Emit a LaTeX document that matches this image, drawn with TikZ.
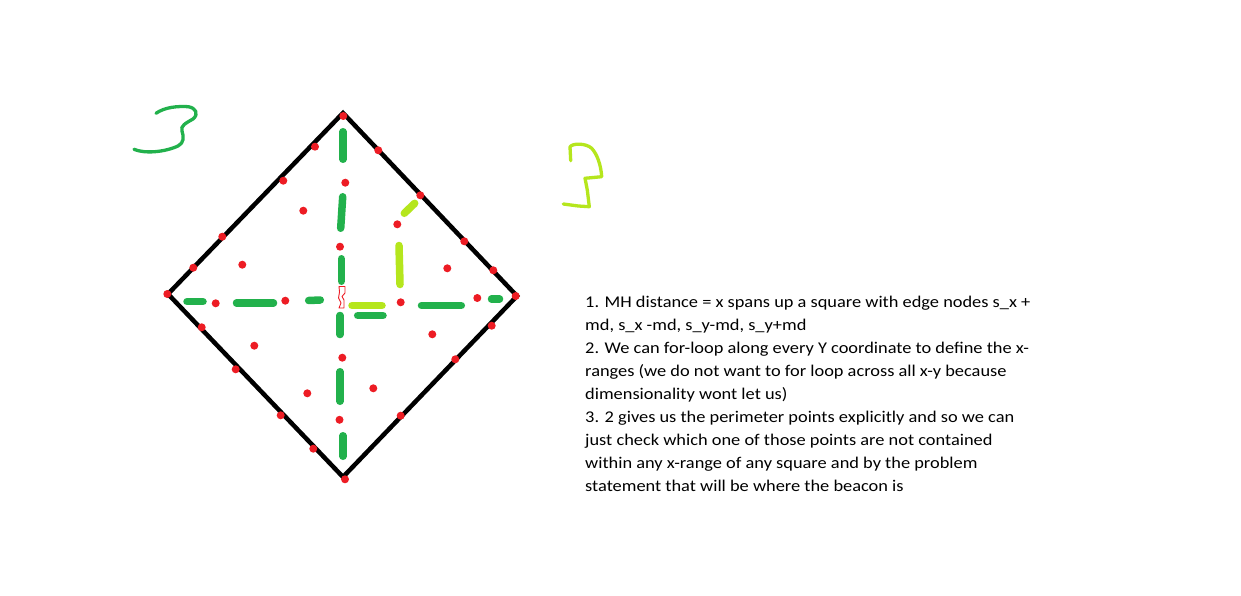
\documentclass[tikz,border=0pt]{standalone}
\usepackage{fontspec}
\setmainfont{Carlito}[FakeStretch=1.12]
\definecolor{pgreen}{HTML}{22B14C}
\definecolor{plime}{HTML}{B5E61D}
\definecolor{pred}{HTML}{ED1C24}
\begin{document}
\begin{tikzpicture}[x=1pt,y=-1pt,
  edge/.style={line width=4.5pt,line join=miter,black},
  gdash/.style={line width=7.5pt,line cap=round,pgreen},
  ldash/.style={line width=7.5pt,line cap=round,plime},
  scrib/.style={line width=3.3pt,line cap=round,line join=round},
  dot/.style={fill=pred},
  txt/.style={anchor=base west,inner sep=0pt,font=\fontsize{16.4}{23}\selectfont}]
\useasboundingbox[fill=white] (0,0) rectangle (1241,596);
% diamond
\coordinate (T) at (343,113);
\coordinate (R) at (517,296);
\coordinate (B) at (343,477);
\coordinate (L) at (168,294);
\draw[edge] (T) -- (R) -- (B) -- (L) -- cycle;
% dark green dashes
\draw[gdash] (343,131.75) -- (343,159.25);
\draw[gdash] (342.7,196.75) -- (340.7,228.25);
\draw[gdash] (341.3,258.75) -- (341.3,281.25);
\draw[gdash] (340,315.5) -- (340,334.5);
\draw[gdash] (340,371.75) -- (340,401.25);
\draw[gdash] (343,435.75) -- (343,456.25);
\draw[gdash] (187,301.7) -- (203,301.7);
\draw[gdash] (236.5,303) -- (273.5,303);
\draw[gdash] (308.7,300.5) -- (320.3,300);
\draw[gdash] (357.7,315.5) -- (383,315.5);
\draw[gdash] (421.5,305.5) -- (461.3,305.5);
\draw[gdash] (491.5,299) -- (499.5,299);
% lime dashes
\draw[ldash] (352,305.5) -- (382,305.5);
\draw[ldash] (404.3,213.3) -- (414.7,203.3);
\draw[ldash] (399,245.5) -- (400,284.5);
% red S outline
\draw[pred,line width=0.9pt,line join=round] (339,286.5) -- (345,286.5) -- (345,293) -- (342,296.5) -- (344,300) -- (344,308) -- (339,308) -- (341,303) -- (338.5,298) -- (339.5,292) -- cycle;
% red dots
\foreach \p in {(343.3,116),(315,146.7),(378.3,150.3),(283.3,180.7),(345.3,182.7),(420.3,195.3),
  (303.3,210.7),(222.3,236.7),(397.3,224.3),(464.3,241.3),(340,246.7),(193.3,267.7),(242.3,264.7),
  (447.3,268.3),(493.3,270.3),(167.3,294),(515.7,296),(215.7,303.3),(285.3,300.7),(400.7,302.3),
  (477.3,298),(201.7,327.3),(432.3,334.3),(491.7,325.7),(254.3,345.7),(342.3,357.7),(455.3,359.3),
  (235.7,369.3),(373.3,388.3),(307.3,393.3),(280.7,415.3),(400.7,415.7),(339.5,419.8),
  (313.3,448.7),(345,479.3)}
  \fill[dot] \p circle (4);
% scribbled threes
\draw[scrib,pgreen] (156,113.3) .. controls (165,107) and (178,106) .. (188.3,106.7)
  .. controls (196,108) and (199,114) .. (193,119) .. controls (186,123) and (180,126) .. (182,131)
  .. controls (184,137) and (184,143) .. (178,146) .. controls (165,152) and (145,154) .. (134,149.3);
\draw[scrib,plime] (570.7,160.7) -- (570,147) .. controls (572,143) and (586,143) .. (591.7,148.3)
  .. controls (597,154) and (601,165) .. (601.7,176.7) -- (585,178.3) -- (587.3,190) -- (589.3,206.7)
  -- (578.3,206) -- (563.3,204);
% text
\node[txt] (l1) at (585,307.6) {1. MH distance = x spans up a square with edge nodes s\_x +};
\node[txt] (l2) at (585,330.6) {md, s\_x -md, s\_y-md, s\_y+md};
\node[txt] (l3) at (585,353.7) {2. We can for-loop along every Y coordinate to define the x-};
\node[txt] (l4) at (585,376.7) {ranges (we do not want to for loop across all x-y because};
\node[txt] (l5) at (585,399.8) {dimensionality wont let us)};
\node[txt] (l6) at (585,422.8) {3. 2 gives us the perimeter points explicitly and so we can};
\node[txt] (l7) at (585,445.8) {just check which one of those points are not contained};
\node[txt] (l8) at (585,468.9) {within any x-range of any square and by the problem};
\node[txt] (l9) at (585,491.9) {statement that will be where the beacon is};
\end{tikzpicture}
\end{document}
